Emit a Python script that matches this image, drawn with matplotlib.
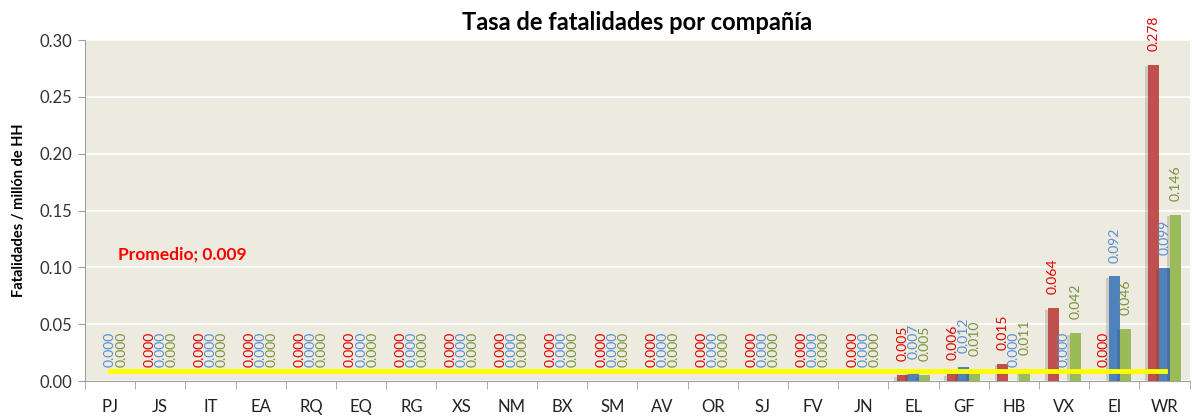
import numpy as np
import matplotlib
matplotlib.use("Agg")
import matplotlib.pyplot as plt
import matplotlib.patheffects as pe

# Values (NaN = no bar / no label)
companies = ["PJ", "JS", "IT", "EA", "RQ", "EQ", "RG", "XS", "NM", "BX", "SM",
             "AV", "OR", "SJ", "FV", "JN", "EL", "GF", "HB", "VX", "EI", "WR"]
serie_roja = [np.nan, 0, 0, 0, 0, 0, 0, 0, 0, 0, 0,
              0, 0, 0, 0, 0, 0.005, 0.006, 0.015, 0.064, 0.000, 0.278]
serie_azul = [0, 0, 0, 0, 0, 0, 0, 0, 0, 0, 0,
              0, 0, 0, 0, 0, 0.007, 0.012, 0.000, 0.000, 0.092, 0.099]
serie_verde = [0, 0, 0, 0, 0, 0, 0, 0, 0, 0, 0,
               0, 0, 0, 0, 0, 0.005, 0.010, 0.011, 0.042, 0.046, 0.146]
promedio = 0.009

bar_colors = ["#C0504D", "#4F81BD", "#9BBB59"]
label_colors = ["#E00000", "#558ED5", "#77933C"]

plt.rcParams["font.family"] = ["Lato", "DejaVu Sans"]

fig = plt.figure(figsize=(11.92, 4.17), dpi=100)
ax = fig.add_axes([0.0713, 0.0863, 0.9267, 0.8177])
ax.set_facecolor("#EDEAE0")

x = np.arange(len(companies))
w = 0.22
shadow = [pe.SimplePatchShadow(offset=(-2, -1), alpha=0.18, shadow_rgbFace="#333333"),
          pe.Normal()]

for i, (vals, c, lc) in enumerate(zip([serie_roja, serie_azul, serie_verde],
                                      bar_colors, label_colors)):
    vals = np.array(vals, dtype=float)
    pos = x + (i - 1) * w
    bars = ax.bar(pos, np.nan_to_num(vals), width=w, color=c, zorder=3)
    for b in bars:
        b.set_path_effects(shadow)
    for p, v in zip(pos, vals):
        if np.isnan(v):
            continue
        ax.annotate(f"{v:.3f}", (p, v), xytext=(0, 10), textcoords="offset points",
                    rotation=90, ha="center", va="bottom", fontsize=10,
                    color=lc, zorder=5, annotation_clip=False)

ax.plot(x, [promedio] * len(x), color="#FFFF00", lw=3.5, zorder=4)
ax.text(0.16, 0.111, f"Promedio; {promedio:.3f}", color="#FF0000",
        fontsize=12.5, fontweight="bold", va="center", zorder=5)

ax.set_xlim(-0.5, len(companies) - 0.5)
ax.set_ylim(0, 0.30)
ax.set_yticks(np.arange(0, 0.301, 0.05))
ax.set_yticklabels([f"{t:.2f}" for t in np.arange(0, 0.301, 0.05)],
                   fontsize=12, color="#333333")
ax.yaxis.grid(True, color="white", lw=1.2, zorder=0)
ax.set_axisbelow(True)

ax.set_xticks(x)
ax.set_xticklabels(companies, fontsize=12, color="#222222")
ax.set_xticks(np.arange(-0.5, len(companies)), minor=True)
ax.tick_params(axis="x", which="major", length=0, pad=13)
ax.tick_params(axis="x", which="minor", length=6, color="#A0A0A0")
ax.tick_params(axis="y", length=5, color="#A0A0A0", pad=4)

for s in ["top", "right"]:
    ax.spines[s].set_visible(False)
for s in ["left", "bottom"]:
    ax.spines[s].set_color("#A0A0A0")

ax.set_ylabel("Fatalidades / millón de HH", fontsize=10.5, fontweight="bold", labelpad=10)
ax.set_title("Tasa de fatalidades por compañía", fontsize=17, fontweight="bold", pad=7)

fig.savefig("out.png", dpi=100)
